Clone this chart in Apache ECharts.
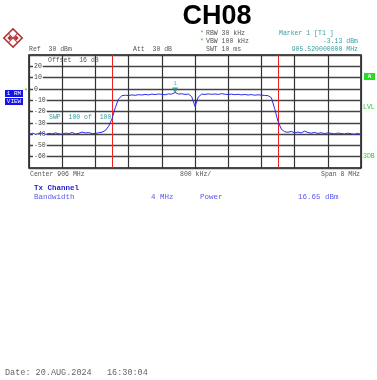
<!DOCTYPE html>
<html>
<head>
<meta charset="utf-8">
<script src="https://cdn.jsdelivr.net/npm/echarts@6/dist/echarts.min.js"></script>
<style>
  html, body { margin: 0; padding: 0; background: #fff; }
  #chart { width: 377px; height: 380px; }
</style>
</head>
<body>
<div id="chart"></div>
<script>
// Spectrum sweep: 902–910 MHz, 0.08 MHz steps, level in dBm
const startMHz = 902;
const stepMHz = 0.08;
const centerMHz = 906;
const traceDbm = [
  -40.5, -39.2, -40.1, -39.6, -39.0, -40.3, -39.4, -39.8, -38.9, -39.7,
  -40.2, -39.1, -39.5, -38.6, -39.9, -39.3, -38.2, -39.0, -38.7, -39.6,
  -39.4, -38.8, -38.3, -36.8, -33.0, -26.5, -16.5, -8.8, -6.0, -5.6,
  -5.9, -5.3, -5.7, -5.1, -5.4, -4.9, -5.3, -4.6, -5.0, -4.5,
  -4.8, -5.2, -4.4, -4.7, -3.1, -4.6, -4.3, -4.9, -4.5, -6.8,
  -15.5, -7.2, -4.6, -4.9, -4.4, -4.8, -4.5, -4.9, -4.2, -4.7,
  -5.0, -4.6, -5.1, -4.8, -5.3, -4.9, -5.4, -5.0, -5.6, -5.2,
  -5.5, -5.8, -6.0, -7.8, -17.5, -28.8, -35.6, -37.9, -38.4, -37.6,
  -38.9, -38.2, -39.0, -37.3, -38.6, -39.2, -38.5, -39.4, -38.8, -39.6,
  -38.9, -39.3, -39.8, -39.1, -39.5, -39.9, -39.2, -39.7, -40.1, -39.4,
  -40.3
];
// Channel edges (MHz) and marker
const channelEdgesMHz = [904, 908];
const markerMHz = 905.52;
const markerDbm = -3.13;
// Level axis
const yTicks = [30, 20, 10, 0, -10, -20, -30, -40, -50, -60, -70];

const mono = 'Liberation Mono';
const teal = '#3a9ea0';
const green = '#30c830';
const txBlue = '#5a5af0';

const tracePoints = traceDbm.map((v, i) => [+(startMHz + i * stepMHz - centerMHz).toFixed(3), v]);

const chart = echarts.init(document.getElementById('chart'), null, { renderer: 'canvas' });

function txt(x, y, text, opts) {
  return Object.assign({
    type: 'text', x: x, y: y,
    style: Object.assign({ text: text, fill: '#555', font: '6.5px ' + mono, textVerticalAlign: 'middle' }, (opts || {}))
  });
}

chart.setOption({
  animation: false,
  backgroundColor: '#fff',
  grid: { left: 29, right: 16, top: 55, bottom: 212, show: true, borderColor: '#111', borderWidth: 1.5, backgroundColor: 'transparent' },
  xAxis: {
    type: 'value', min: -4, max: 4, interval: 0.8,
    axisLine: { show: false }, axisTick: { show: false }, axisLabel: { show: false },
    splitLine: { show: true, lineStyle: { color: '#333', width: 1.2 } }
  },
  yAxis: {
    type: 'value', min: -70, max: 30, interval: 10,
    axisLine: { show: false },
    axisTick: { show: true, inside: true, length: 3, lineStyle: { color: '#333' } },
    axisLabel: {
      inside: true, margin: 4, color: '#444', fontFamily: mono, fontSize: 6.5,
      backgroundColor: '#fff', padding: [0, 1, 0, 1],
      formatter: v => (v === 30 || v === -70) ? '' : String(v)
    },
    splitLine: { show: true, lineStyle: { color: '#444', width: 1.4 } }
  },
  series: [
    {
      type: 'line', data: tracePoints, showSymbol: false, z: 5,
      lineStyle: { color: '#2a2aee', width: 1 },
      markLine: {
        silent: true, symbol: 'none', label: { show: false },
        lineStyle: { color: '#ee2020', width: 1, type: 'solid' },
        data: channelEdgesMHz.map(f => ({ xAxis: f - centerMHz }))
      }
    },
    {
      type: 'scatter', z: 6,
      data: [[+(markerMHz - centerMHz).toFixed(3), markerDbm]],
      symbol: 'triangle', symbolRotate: 180, symbolSize: [6, 6], symbolOffset: [0, -2],
      itemStyle: { color: '#1f8f7a' },
      label: { show: true, position: 'top', distance: 1, formatter: '1', color: teal, fontFamily: mono, fontSize: 6 }
    }
  ],
  graphic: [
    // Title
    { type: 'text', x: 217, y: 17, style: { text: 'CH08', fill: '#000', font: 'bold 27px "Liberation Sans"', textAlign: 'center', textVerticalAlign: 'middle' } },
    // Logo
    { type: 'group', x: 13, y: 38, rotation: Math.PI / 4, children: [
      { type: 'rect', shape: { x: -6.5, y: -6.5, width: 13, height: 13 }, style: { fill: '#fff', stroke: '#b03535', lineWidth: 1.6 } },
      { type: 'rect', shape: { x: -4, y: -4, width: 3.5, height: 3.5 }, style: { fill: '#b03535' } },
      { type: 'rect', shape: { x: 0.5, y: 0.5, width: 3.5, height: 3.5 }, style: { fill: '#b03535' } },
      { type: 'line', shape: { x1: -6, y1: 0, x2: 6, y2: 0 }, style: { stroke: '#b03535', lineWidth: 1 } },
      { type: 'line', shape: { x1: 0, y1: -6, x2: 0, y2: 6 }, style: { stroke: '#b03535', lineWidth: 1 } }
    ] },
    // Header settings
    txt(29, 49, 'Ref  30 dBm'),
    txt(133, 49, 'Att  30 dB'),
    txt(200, 33, '*', { fill: green }),
    txt(206, 33, 'RBW 30 kHz'),
    txt(200, 41, '*', { fill: green }),
    txt(206, 41, 'VBW 100 kHz'),
    txt(206, 49, 'SWT 10 ms'),
    txt(279, 33, 'Marker 1 [T1 ]', { fill: teal }),
    txt(358, 41, '-3.13 dBm', { fill: teal, textAlign: 'right' }),
    txt(358, 49, '905.520000000 MHz', { fill: teal, textAlign: 'right' }),
    // In-plot annotations
    txt(48, 60, 'Offset  16 dB', { fill: '#555' }),
    txt(49, 117, 'SWP  100 of  100', { fill: teal }),
    // Left trace boxes
    { type: 'rect', shape: { x: 5, y: 90, width: 18, height: 7 }, style: { fill: '#1414e6' } },
    txt(14, 93.5, '1 RM', { fill: '#fff', textAlign: 'center', font: '6px ' + mono }),
    { type: 'rect', shape: { x: 5, y: 98, width: 18, height: 7 }, style: { fill: '#1414e6' } },
    txt(14, 101.5, 'VIEW', { fill: '#fff', textAlign: 'center', font: '6px ' + mono }),
    txt(24, 91, '*', { fill: green }),
    // Right side indicators
    { type: 'rect', shape: { x: 364, y: 73, width: 11, height: 7 }, style: { fill: '#22dd22' } },
    txt(369.5, 76.5, 'A', { fill: '#fff', textAlign: 'center', font: 'bold 6px ' + mono }),
    txt(363, 107, 'LVL', { fill: green }),
    txt(363, 156, '3DB', { fill: green }),
    // Frequency axis text
    txt(30, 174, 'Center 906 MHz'),
    txt(180, 174, '800 kHz/'),
    txt(360, 174, 'Span 8 MHz', { textAlign: 'right' }),
    // Channel power table
    txt(34, 188, 'Tx Channel', { fill: '#2222cc', font: 'bold 7.5px ' + mono }),
    txt(34, 197, 'Bandwidth', { fill: txBlue, font: '7.5px ' + mono }),
    txt(151, 197, '4 MHz', { fill: txBlue, font: '7.5px ' + mono }),
    txt(200, 197, 'Power', { fill: txBlue, font: '7.5px ' + mono }),
    txt(298, 197, '16.65 dBm', { fill: txBlue, font: '7.5px ' + mono }),
    // Timestamp
    txt(5, 373, 'Date: 20.AUG.2024   16:30:04', { fill: '#666', font: '8.5px ' + mono })
  ]
});
</script>
</body>
</html>
